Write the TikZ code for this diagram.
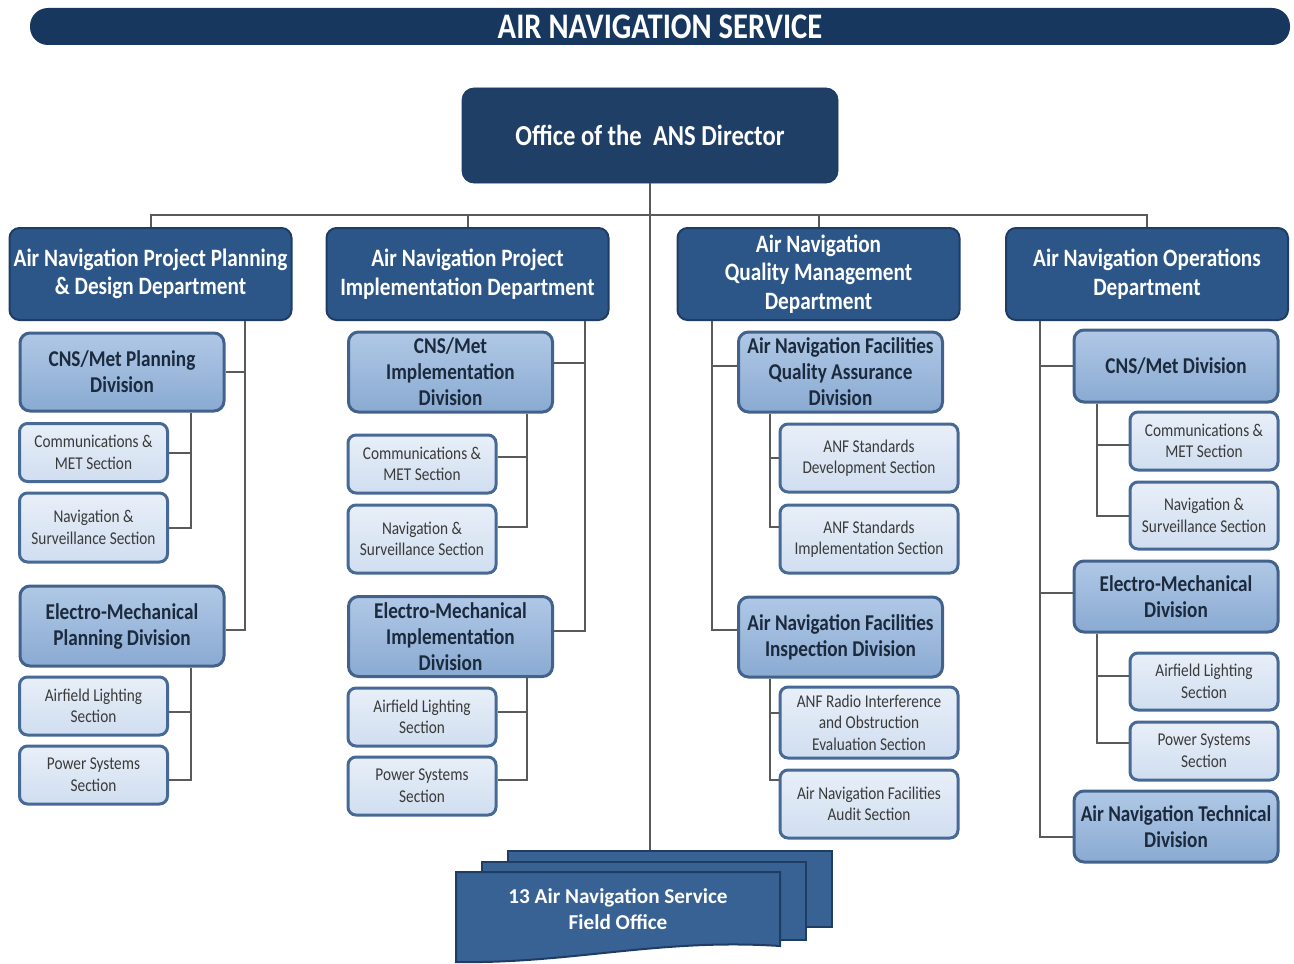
\documentclass[tikz,border=0pt]{standalone}
\usepackage{fontspec}
\setmainfont{Carlito}[FakeStretch=0.85]
\newfontfamily\fofont{Carlito}
\usepackage{tikz}
\usetikzlibrary{calc,shapes,positioning}
\definecolor{titlenavy}{RGB}{23,55,94}
\definecolor{dirblue}{RGB}{31,63,102}
\definecolor{deptblue}{RGB}{44,86,136}
\definecolor{deptline}{RGB}{30,60,100}
\definecolor{divtop}{RGB}{176,200,230}
\definecolor{divbot}{RGB}{138,170,210}
\definecolor{divline}{RGB}{66,98,140}
\definecolor{divtext}{RGB}{27,42,61}
\definecolor{sectop}{RGB}{232,239,248}
\definecolor{secbot}{RGB}{208,222,240}
\definecolor{secline}{RGB}{70,105,150}
\definecolor{sectext}{RGB}{58,58,58}
\definecolor{linkgray}{RGB}{90,90,90}
\definecolor{fofill}{RGB}{56,98,148}
\definecolor{foline}{RGB}{31,61,99}

\begin{document}
\begin{tikzpicture}[x=0.5pt,y=-0.5pt]

  \tikzstyle{dept}=[rounded corners=5pt, fill=deptblue, draw=deptline, line width=1pt, text=white, font=\bfseries\fontsize{12.5}{14.3}\selectfont, align=center, minimum width=141pt, minimum height=46pt, inner sep=0pt]
  \tikzstyle{divbox}=[rounded corners=5pt, top color=divtop, bottom color=divbot, draw=divline, line width=1.5pt, text=divtext, font=\bfseries\fontsize{11.3}{13}\selectfont, align=center, minimum width=102pt, minimum height=40pt, inner sep=0pt]
  \tikzstyle{secbox}=[rounded corners=4pt, top color=sectop, bottom color=secbot, draw=secline, line width=1.5pt, text=sectext, font=\fontsize{9}{10.8}\selectfont, align=center, minimum width=74pt, minimum height=29pt, inner sep=0pt]
  \tikzstyle{wide}=[minimum width=89pt, minimum height=34pt]
  \tikzstyle{linkline}=[draw=linkgray, line width=1pt]
  \tikzstyle{sheet}=[fill=fofill, draw=foline, line width=1pt]

  \useasboundingbox (0,0) rectangle (1294,963);

  % header and director
  \node[fill=titlenavy, rounded corners=9pt, minimum width=630pt, minimum height=18.5pt, inner sep=0pt, text=white, font=\bfseries\fontsize{18}{20}\selectfont] (title) at (660,26.5) {AIR NAVIGATION SERVICE};
  \node[fill=dirblue, draw=deptline, rounded corners=6pt, minimum width=188pt, minimum height=47.5pt, inner sep=0pt, text=white, font=\bfseries\fontsize{14.5}{16}\selectfont] (dir) at (650,135.5) {Office of the \ ANS Director};

  % departments
  \node[dept] (d1) at (150.5,274) {Air Navigation Project Planning\\\& Design Department};
  \node[dept] (d2) at (467.5,274) {Air Navigation Project\\Implementation Department};
  \node[dept] (d3) at (818.5,274) {Air Navigation\\Quality Management\\Department};
  \node[dept] (d4) at (1147,274) {Air Navigation Operations\\Department};

  % column 1
  \node[divbox, minimum height=39pt] (v11) at (122,372) {CNS/Met Planning\\Division};
  \node[secbox] (s111) at (93.5,452.5) {Communications \&\\MET Section};
  \node[secbox, minimum height=34.5pt] (s112) at (93.5,527.5) {Navigation \&\\Surveillance Section};
  \node[divbox] (v12) at (122,626) {Electro-Mechanical\\Planning Division};
  \node[secbox] (s121) at (93.5,706) {Airfield Lighting\\Section};
  \node[secbox] (s122) at (93.5,775) {Power Systems\\Section};

  % column 2
  \node[divbox] (v21) at (450.5,372) {CNS/Met\\Implementation\\Division};
  \node[secbox] (s211) at (422,464) {Communications \&\\MET Section};
  \node[secbox, minimum height=34pt] (s212) at (422,539) {Navigation \&\\Surveillance Section};
  \node[divbox] (v22) at (450.5,636.5) {Electro-Mechanical\\Implementation\\Division};
  \node[secbox] (s221) at (422,717) {Airfield Lighting\\Section};
  \node[secbox] (s222) at (422,786) {Power Systems\\Section};

  % column 3
  \node[divbox] (v31) at (840.5,372) {Air Navigation Facilities\\Quality Assurance\\Division};
  \node[secbox, wide] (s311) at (869,458) {ANF Standards\\Development Section};
  \node[secbox, wide] (s312) at (869,539) {ANF Standards\\Implementation Section};
  \node[divbox] (v32) at (840.5,637) {Air Navigation Facilities\\Inspection Division};
  \node[secbox, wide, minimum height=35.5pt] (s321) at (869,722.5) {ANF Radio Interference\\and Obstruction\\Evaluation Section};
  \node[secbox, wide] (s322) at (869,804) {Air Navigation Facilities\\Audit Section};

  % column 4
  \node[divbox, minimum height=36pt] (v41) at (1176,366) {CNS/Met Division};
  \node[secbox] (s411) at (1204,441) {Communications \&\\MET Section};
  \node[secbox, minimum height=33.5pt] (s412) at (1204,515.5) {Navigation \&\\Surveillance Section};
  \node[divbox, minimum height=35.5pt] (v42) at (1176,596.5) {Electro-Mechanical\\Division};
  \node[secbox, minimum height=28.5pt] (s421) at (1204,681.5) {Airfield Lighting\\Section};
  \node[secbox] (s422) at (1204,751) {Power Systems\\Section};
  \node[divbox, minimum height=35.5pt] (v43) at (1176,826.5) {Air Navigation Technical\\Division};

  % field offices
  \node[sheet, minimum width=162pt, minimum height=38pt, inner sep=0pt] (fo3) at (670,889) {};
  \node[sheet, minimum width=162pt, minimum height=39pt, inner sep=0pt] (fo2) at (644,901) {};
  \path[sheet] (456,872) -- (780,872) -- (780,946) .. controls (660,938) and (570,964) .. (456,962) -- cycle;
  \node[text=white, align=center, font=\fofont\bfseries\fontsize{10.6}{13}\selectfont] (fo) at (618,909) {13 Air Navigation Service\\Field Office};

  % bus and main trunk
  \coordinate (bus) at (650,215);
  \draw[linkline] (d1.north) |- (bus) -| (d4.north);
  \draw[linkline] (d2.north) -- (d2.north |- bus);
  \draw[linkline] (d3.north) -- (d3.north |- bus);
  \draw[linkline] (dir.south) -- (dir.south |- fo3.north);

  % column 1 links
  \coordinate (t1) at (245,0);
  \coordinate (t1a) at (191,0);
  \draw[linkline] (d1.south -| t1) |- ([yshift=-2pt]v12.east);
  \draw[linkline] (v11.east) -- (v11.east -| t1);
  \draw[linkline] (v11.south -| t1a) |- (s112.east);
  \draw[linkline] (s111.east) -- (s111.east -| t1a);
  \draw[linkline] (v12.south -| t1a) |- ([yshift=-2.5pt]s122.east);
  \draw[linkline] ([yshift=-3pt]s121.east) -- ([yshift=-3pt]s121.east -| t1a);

  % column 2 links
  \coordinate (t2) at (585,0);
  \coordinate (t2a) at (527,0);
  \draw[linkline] (d2.south -| t2) |- ([yshift=3pt]v22.east);
  \draw[linkline] ([yshift=4.5pt]v21.east) -- ([yshift=4.5pt]v21.east -| t2);
  \draw[linkline] (v21.south -| t2a) |- ([yshift=6pt]s212.east);
  \draw[linkline] ([yshift=3.5pt]s211.east) -- ([yshift=3.5pt]s211.east -| t2a);
  \draw[linkline] (v22.south -| t2a) |- ([yshift=3pt]s222.east);
  \draw[linkline] ([yshift=2.5pt]s221.east) -- ([yshift=2.5pt]s221.east -| t2a);

  % column 3 links
  \coordinate (t3) at (712,0);
  \coordinate (t3a) at (770,0);
  \draw[linkline] (d3.south -| t3) |- ([yshift=3.5pt]v32.west);
  \draw[linkline] ([yshift=3pt]v31.west) -- ([yshift=3pt]v31.west -| t3);
  \draw[linkline] (v31.south -| t3a) |- ([yshift=6pt]s312.west);
  \draw[linkline] (s311.west) -- (s311.west -| t3a);
  \draw[linkline] (v32.south -| t3a) |- ([yshift=12pt]s322.west);
  \draw[linkline] ([yshift=5pt]s321.west) -- ([yshift=5pt]s321.west -| t3a);

  % column 4 links
  \coordinate (t4) at (1040,0);
  \coordinate (t4a) at (1097,0);
  \draw[linkline] (d4.south -| t4) |- ([yshift=-5pt]v43.west);
  \draw[linkline] (v41.west) -- (v41.west -| t4);
  \draw[linkline] ([yshift=2pt]v42.west) -- ([yshift=2pt]v42.west -| t4);
  \draw[linkline] (v41.south -| t4a) |- (s412.west);
  \draw[linkline] ([yshift=-2pt]s411.west) -- ([yshift=-2pt]s411.west -| t4a);
  \draw[linkline] (v42.south -| t4a) |- ([yshift=4pt]s422.west);
  \draw[linkline] ([yshift=3pt]s421.west) -- ([yshift=3pt]s421.west -| t4a);

\end{tikzpicture}
\end{document}
